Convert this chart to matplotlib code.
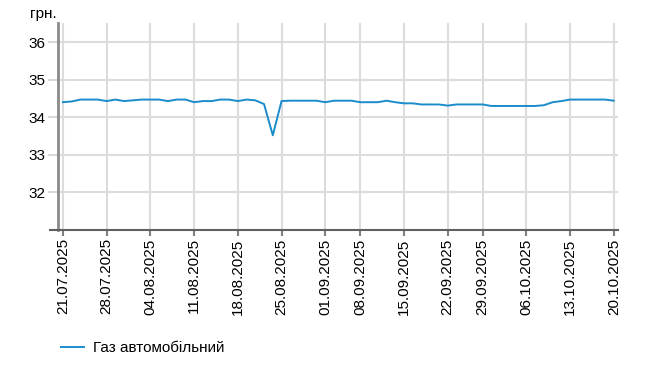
import matplotlib
matplotlib.use('Agg')
import matplotlib.pyplot as plt
import pandas as pd

plt.rcParams['font.family'] = ['Liberation Sans', 'DejaVu Sans']

# working days shown on the chart (two days absent from the source)
missing_days = ['2025-09-05', '2025-09-26']
dates = [d for d in pd.bdate_range('2025-07-21', '2025-10-20')
         if d.strftime('%Y-%m-%d') not in missing_days]

tick_labels = ['21.07.2025', '28.07.2025', '04.08.2025', '11.08.2025', '18.08.2025',
               '25.08.2025', '01.09.2025', '08.09.2025', '15.09.2025', '22.09.2025',
               '29.09.2025', '06.10.2025', '13.10.2025', '20.10.2025']

series_name = 'Газ автомобільний'
prices = [34.40, 34.42, 34.47, 34.47, 34.47, 34.43, 34.47, 34.43, 34.45, 34.47,
          34.47, 34.47, 34.43, 34.47, 34.47, 34.40, 34.43, 34.43, 34.47, 34.47,
          34.43, 34.47, 34.45, 34.35, 33.52, 34.43, 34.44, 34.44, 34.44, 34.44,
          34.40, 34.44, 34.44, 34.44, 34.40, 34.40, 34.40, 34.44, 34.40, 34.37,
          34.37, 34.34, 34.34, 34.34, 34.31, 34.34, 34.34, 34.34, 34.34, 34.30,
          34.30, 34.30, 34.30, 34.30, 34.30, 34.32, 34.40, 34.43, 34.47, 34.47,
          34.47, 34.47, 34.47, 34.44]

y_ticks = [32, 33, 34, 35, 36]

labels = [d.strftime('%d.%m.%Y') for d in dates]
xpos = list(range(len(labels)))
tick_pos = [labels.index(t) for t in tick_labels]

fig = plt.figure(figsize=(6.63, 3.92), dpi=100)
ax = fig.add_axes([57.5 / 663, 0.4133, 560 / 663, 0.5273])

ax.plot(xpos, prices, color='#1a8ccc', linewidth=1.4, label=series_name)

ax.set_xlim(-0.62, len(xpos) - 1 + 0.42)
ax.set_ylim(31, 36.5)
ax.set_yticks(y_ticks)
ax.set_xticks(tick_pos)
ax.set_xticklabels(tick_labels, rotation=90, fontsize=11)
ax.tick_params(axis='y', labelsize=11, length=7, width=1.5, color='#d9d9d9', pad=2)
ax.tick_params(axis='x', length=4, width=1.5, color='#808080', pad=2)

ax.grid(True, color='#dcdcdc', linewidth=1.5)
ax.set_axisbelow(True)
for s in ['top', 'right']:
    ax.spines[s].set_visible(False)
ax.spines['left'].set_color('#8a8a8a')
ax.spines['left'].set_linewidth(2)
ax.spines['bottom'].set_color('#606060')
ax.spines['bottom'].set_linewidth(1.5)
# bottom axis line runs a little past the left axis
ax.plot([-0.013, 0], [0, 0], transform=ax.transAxes, color='#606060',
        linewidth=1.5, clip_on=False)

fig.text(0.045, 0.964, 'грн.', fontsize=11, ha='left', va='center')

ax.legend(loc='center left', bbox_to_anchor=(0.092, 0.112), bbox_transform=fig.transFigure,
          frameon=False, borderpad=0, borderaxespad=0, handlelength=1.5,
          handletextpad=0.6, fontsize=11)

fig.savefig('out.png', dpi=100)
